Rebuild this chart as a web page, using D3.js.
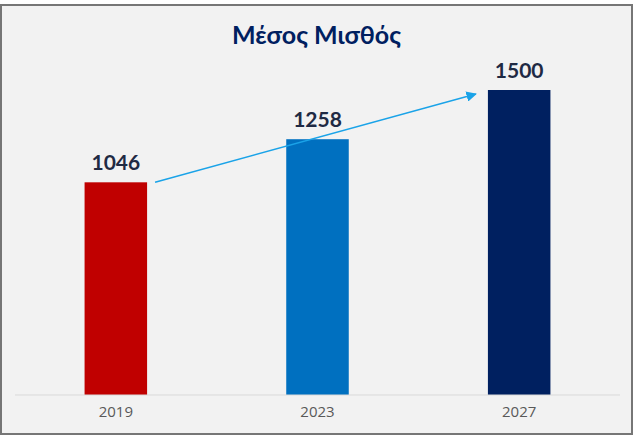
<!DOCTYPE html>
<html>
<head>
<meta charset="utf-8">
<script src="https://cdn.jsdelivr.net/npm/d3@7"></script>
<style>
body { margin: 0; background: #fff; }
</style>
</head>
<body>
<div id="container"></div>
<script>
const years = ["2019", "2023", "2027"];
const salaries = [1046, 1258, 1500];
const barColors = ["#c00000", "#0070c0", "#002060"];
const title = "Μέσος Μισθός";

const width = 633;
const height = 442;
const margin = { top: 90, bottom: 47, left: 15, right: 13 };
const baseline = height - margin.bottom;

const svg = d3.select("#container").append("svg")
	.attr("width", width)
	.attr("height", height);

svg.append("rect")
	.attr("x", 1).attr("y", 5)
	.attr("width", width - 2).attr("height", 429)
	.attr("fill", "#f2f2f2")
	.attr("stroke", "#767676")
	.attr("stroke-width", 2);

const x = d3.scaleBand()
	.domain(years)
	.range([margin.left, width - margin.right])
	.paddingInner(0.69)
	.paddingOuter(0.345);

const y = d3.scaleLinear()
	.domain([0, 1500])
	.range([baseline, margin.top]);

svg.append("text")
	.attr("x", width / 2).attr("y", 44)
	.attr("text-anchor", "middle")
	.attr("font-family", "Lato, 'Open Sans', sans-serif")
	.attr("font-weight", "bold")
	.attr("font-size", 25)
	.attr("fill", "#002060")
	.text(title);

svg.selectAll("rect.bar")
	.data(salaries)
	.enter().append("rect")
	.attr("class", "bar")
	.attr("x", (d, i) => x(years[i]))
	.attr("y", (d) => y(d))
	.attr("width", x.bandwidth())
	.attr("height", (d) => baseline - y(d))
	.attr("fill", (d, i) => barColors[i]);

svg.selectAll("text.val")
	.data(salaries)
	.enter().append("text")
	.attr("class", "val")
	.attr("x", (d, i) => x(years[i]) + x.bandwidth() / 2)
	.attr("y", (d) => y(d) - 12)
	.attr("text-anchor", "middle")
	.attr("font-family", "Lato, 'Open Sans', sans-serif")
	.attr("font-weight", "bold")
	.attr("font-size", 21)
	.attr("fill", "#1f2a44")
	.text((d) => d);

const xAxis = d3.axisBottom(x).tickSize(0).tickPadding(11);
const gx = svg.append("g")
	.attr("transform", `translate(0, ${baseline})`)
	.call(xAxis);
gx.select(".domain").attr("stroke", "#d9d9d9").attr("d", `M${margin.left},0H${width - margin.right}`);
gx.selectAll("text")
	.attr("font-family", "'Open Sans', sans-serif")
	.attr("font-size", 15)
	.attr("fill", "#595959");

// trend arrow from first bar to last
const defs = svg.append("defs");
defs.append("marker")
	.attr("id", "arrow")
	.attr("viewBox", "0 0 10 10")
	.attr("refX", 9).attr("refY", 5)
	.attr("markerWidth", 7).attr("markerHeight", 7)
	.attr("orient", "auto")
	.append("path").attr("d", "M0,0L10,5L0,10z").attr("fill", "#1aa3e8");

svg.append("line")
	.attr("x1", x(years[0]) + x.bandwidth() + 8)
	.attr("y1", y(salaries[0]))
	.attr("x2", x(years[2]) - 12)
	.attr("y2", y(salaries[2]) + 4)
	.attr("stroke", "#1aa3e8")
	.attr("stroke-width", 1.5)
	.attr("marker-end", "url(#arrow)");
</script>
</body>
</html>
